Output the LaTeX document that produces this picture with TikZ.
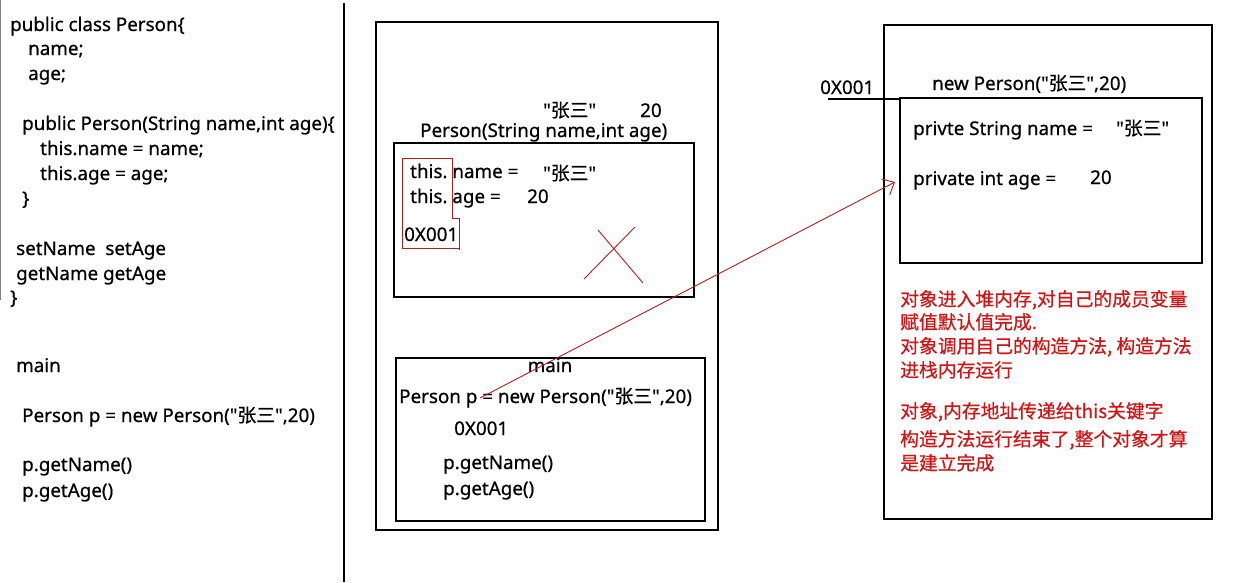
\documentclass[tikz,border=0pt]{standalone}
\usepackage{fontspec}
\setmainfont{Noto Sans}[FakeBold=0.6]
\newfontfamily\cjk{Noto Sans CJK SC}[FakeBold=0.6]
\usetikzlibrary{arrows.meta}
\definecolor{redtxt}{RGB}{210,20,20}
\definecolor{redln}{RGB}{180,30,30}
\newcommand{\qq}{\XeTeXglyph\XeTeXcharglyph"22\relax}
\newcommand{\zs}{\qq{\cjk 张三}\qq}
\begin{document}
\begin{tikzpicture}[x=1pt,y=-1pt,
  txt/.style={anchor=base west, inner sep=0pt, font=\fontsize{18.8}{22}\selectfont},
  box/.style={draw, line width=1.2pt},
  note/.style={anchor=base west, inner sep=0pt, text=redtxt, font=\cjk\fontsize{18.8}{22}\selectfont},
  redl/.style={draw=redln, line width=0.9pt}]
\useasboundingbox (0,0) rectangle (1251,582);
\fill[white] (0,0) rectangle (1251,582);
\draw[gray, line width=1pt] (0.5,0) -- (0.5,300);
% divider
\draw[line width=1.2pt] (344,3) -- (344,582);
% left code
\node[txt] (c1) at (10,31) {public class Person\{};
\node[txt] (c2) at (28,55) {name;};
\node[txt] (c3) at (28,80) {age;};
\node[txt] (c4) at (22,130) {public Person(String name,int age)\{};
\node[txt] (c5) at (40,155) {this.name = name;};
\node[txt] (c6) at (40,180) {this.age = age;};
\node[txt] (c7) at (22,205) {\}};
\node[txt] (c8) at (16,255) {setName\ \ setAge};
\node[txt] (c9) at (16,280) {getName getAge};
\node[txt] (c10) at (10,304) {\}};
\node[txt] (c11) at (16,372) {main};
\node[txt] (c12) at (22,422) {Person p = new Person(\zs,20)};
\node[txt] (c13) at (22,471) {p.getName()};
\node[txt] (c14) at (22,497) {p.getAge()};
% middle stack
\draw[box] (376,22) rectangle (718,530);
\node[txt] (m1) at (543,117) {\zs};
\node[txt] (m2) at (640,117) {20};
\node[txt] (m3) at (420,137) {Person(String name,int age)};
\draw[box] (394,143) rectangle (694,297);
\node[txt] (m4) at (410,178) {this.\ name =};
\node[txt] (m5) at (543,180) {\zs};
\node[txt] (m6) at (410,203) {this.\ age =};
\node[txt] (m7) at (527,203) {20};
\node[txt] (m8) at (404,241) {0X001};
\draw[redl] (402,158) -- (452,158) -- (452,218) -- (459,218) -- (459,250);
\draw[redl] (402,158) -- (402,248) -- (459,248);
\draw[redl] (598,230) -- (643,283);
\draw[redl] (635,227) -- (584,279);
\draw[box] (396,358) rectangle (705,521);
\node[txt, anchor=base] (m9) at (550,372) {main};
\node[txt] (m10) at (399,403) {Person p = new Person(\zs,20)};
\node[txt] (m11) at (454,435) {0X001};
\node[txt] (m12) at (443,469) {p.getName()};
\node[txt] (m13) at (443,495) {p.getAge()};
% right heap
\draw[box] (884,25) rectangle (1212,519);
\node[txt] (h0) at (820,94) {0X001};
\node[txt] (h1) at (932,90) {new Person(\zs,20)};
\draw[box] (900,98) rectangle (1202,263);
\coordinate (hl) at (828,99);
\coordinate (hr) at (900,99);
\draw[line width=1.2pt] (hl) -- (hr);
\node[txt] (h2) at (913,135) {privte String name =};
\node[txt] (h2v) at (1116,135) {\zs};
\node[txt] (h3) at (913,185) {private int age =};
\node[txt] (h4) at (1090,184) {20};
\node[note] (n1) at (900,306) {对象进入堆内存,对自己的成员变量};
\node[note] (n2) at (900,329) {赋值默认值完成.};
\node[note] (n3) at (900,353) {对象调用自己的构造方法, 构造方法};
\node[note] (n4) at (900,377) {进栈内存运行};
\node[note] (n5) at (900,418) {对象,内存地址传递给this关键字};
\node[note] (n6) at (900,446) {构造方法运行结束了,整个对象才算};
\node[note] (n7) at (900,470) {是建立完成};
% arrow
\coordinate (aS) at (480,398);
\coordinate (aE) at (895,182);
\draw[redl, -{Straight Barb[length=10pt,width=18pt]}] (aS) -- (aE);
\end{tikzpicture}
\end{document}
